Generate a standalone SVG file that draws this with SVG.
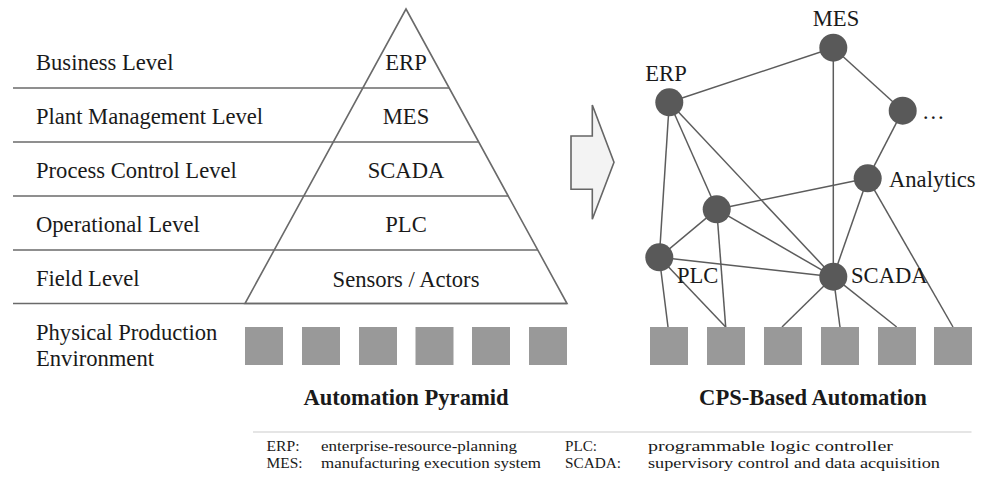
<svg xmlns="http://www.w3.org/2000/svg" width="988" height="477" viewBox="0 0 988 477">
<style>
text{font-family:"Liberation Serif","Times New Roman",serif;fill:#1a1a1a}
.t{font-size:22.6px}
.b{font-size:22.6px;font-weight:bold}
.l{font-size:15.5px}
.m{text-anchor:middle}
.lvl{stroke:#6a6a6a;stroke-width:1.6;fill:none}
.edge{stroke:#5c5c5c;stroke-width:1.5;fill:none}
.node{fill:#595959}
.sq{fill:#999999}
</style>
<rect width="988" height="477" fill="#ffffff"/>
<g id="pyramid">
<line class="lvl" x1="13" y1="88" x2="449.2" y2="88"/>
<line class="lvl" x1="13" y1="142" x2="478.7" y2="142"/>
<line class="lvl" x1="13" y1="196" x2="508.2" y2="196"/>
<line class="lvl" x1="13" y1="250" x2="537.8" y2="250"/>
<line class="lvl" x1="13" y1="303.5" x2="567" y2="303.5"/>
<polygon class="lvl" points="406,9 567,303.5 245,303.5"/>
<text class="t" x="36" y="70">Business Level</text>
<text class="t" x="36" y="124">Plant Management Level</text>
<text class="t" x="36" y="178">Process Control Level</text>
<text class="t" x="36" y="232">Operational Level</text>
<text class="t" x="36" y="286">Field Level</text>
<text class="t" x="36" y="339.5">Physical Production</text>
<text class="t" x="36" y="365.5">Environment</text>
<text class="t m" x="406" y="70">ERP</text>
<text class="t m" x="406" y="124">MES</text>
<text class="t m" x="406" y="178">SCADA</text>
<text class="t m" x="406" y="232">PLC</text>
<text class="t m" x="406" y="286.5">Sensors / Actors</text>
</g>
<g id="left-env">
<rect class="sq" x="245" y="327" width="38" height="38"/>
<rect class="sq" x="302" y="327" width="38" height="38"/>
<rect class="sq" x="359" y="327" width="38" height="38"/>
<rect class="sq" x="415.5" y="327" width="38" height="38"/>
<rect class="sq" x="472" y="327" width="38" height="38"/>
<rect class="sq" x="529" y="327" width="38" height="38"/>
</g>
<g id="arrow">
<polygon points="571,136 592.3,136 592.3,105 614,162.3 592.3,219.3 592.3,189.3 571,189.3" fill="#f3f3f3" stroke="#666666" stroke-width="1.6"/>
</g>
<g id="connectors">
<line class="edge" x1="669.3" y1="102.3" x2="833.3" y2="47.7"/>
<line class="edge" x1="833.3" y1="47.7" x2="902.7" y2="110.7"/>
<line class="edge" x1="833.3" y1="47.7" x2="833.3" y2="276.7"/>
<line class="edge" x1="902.7" y1="110.7" x2="867.7" y2="178.3"/>
<line class="edge" x1="669.3" y1="102.3" x2="659.3" y2="257.3"/>
<line class="edge" x1="669.3" y1="102.3" x2="716.7" y2="209.3"/>
<line class="edge" x1="669.3" y1="102.3" x2="833.3" y2="276.7"/>
<line class="edge" x1="867.7" y1="178.3" x2="716.7" y2="209.3"/>
<line class="edge" x1="867.7" y1="178.3" x2="833.3" y2="276.7"/>
<line class="edge" x1="867.7" y1="178.3" x2="953" y2="327"/>
<line class="edge" x1="716.7" y1="209.3" x2="659.3" y2="257.3"/>
<line class="edge" x1="716.7" y1="209.3" x2="833.3" y2="276.7"/>
<line class="edge" x1="716.7" y1="209.3" x2="725.7" y2="327"/>
<line class="edge" x1="659.3" y1="257.3" x2="833.3" y2="276.7"/>
<line class="edge" x1="659.3" y1="257.3" x2="668" y2="327"/>
<line class="edge" x1="659.3" y1="257.3" x2="725.7" y2="327"/>
<line class="edge" x1="833.3" y1="276.7" x2="782" y2="327"/>
<line class="edge" x1="833.3" y1="276.7" x2="840" y2="327"/>
<line class="edge" x1="833.3" y1="276.7" x2="896.7" y2="327"/>
</g>
<g id="node-mes"><circle class="node" cx="833.3" cy="47.7" r="14"/><text class="t m" x="836" y="26">MES</text></g>
<g id="node-erp"><circle class="node" cx="669.3" cy="102.3" r="14"/><text class="t m" x="666" y="80.5">ERP</text></g>
<g id="node-dots"><circle class="node" cx="902.7" cy="110.7" r="14"/><text class="t" x="922" y="119">…</text></g>
<g id="node-analytics"><circle class="node" cx="867.7" cy="178.3" r="14"/><text class="t" x="889" y="186.5">Analytics</text></g>
<g id="node-mid"><circle class="node" cx="716.7" cy="209.3" r="14"/></g>
<g id="node-plc"><circle class="node" cx="659.3" cy="257.3" r="14"/><text class="t" x="677" y="283">PLC</text></g>
<g id="node-scada"><circle class="node" cx="833.3" cy="276.7" r="14"/><text class="t" x="851" y="283">SCADA</text></g>
<g id="right-env">
<rect class="sq" x="650" y="327" width="38" height="38"/>
<rect class="sq" x="707" y="327" width="38" height="38"/>
<rect class="sq" x="764" y="327" width="38" height="38"/>
<rect class="sq" x="821" y="327" width="38" height="38"/>
<rect class="sq" x="878" y="327" width="38" height="38"/>
<rect class="sq" x="934" y="327" width="38" height="38"/>
</g>
<g id="titles">
<text class="b m" x="406" y="405">Automation Pyramid</text>
<text class="b m" x="813" y="405">CPS-Based Automation</text>
</g>
<g id="legend">
<line x1="253" y1="432" x2="971.5" y2="432" stroke="#dddddd" stroke-width="1.6"/>
<text class="l" x="266.5" y="451" textLength="33" lengthAdjust="spacingAndGlyphs">ERP:</text>
<text class="l" x="321" y="451" textLength="196" lengthAdjust="spacingAndGlyphs">enterprise-resource-planning</text>
<text class="l" x="266.5" y="468" textLength="36" lengthAdjust="spacingAndGlyphs">MES:</text>
<text class="l" x="321" y="468" textLength="220" lengthAdjust="spacingAndGlyphs">manufacturing execution system</text>
<text class="l" x="565" y="451" textLength="32" lengthAdjust="spacingAndGlyphs">PLC:</text>
<text class="l" x="648" y="451" textLength="245" lengthAdjust="spacingAndGlyphs">programmable logic controller</text>
<text class="l" x="565" y="468" textLength="56" lengthAdjust="spacingAndGlyphs">SCADA:</text>
<text class="l" x="648" y="468" textLength="292" lengthAdjust="spacingAndGlyphs">supervisory control and data acquisition</text>
</g>
</svg>
